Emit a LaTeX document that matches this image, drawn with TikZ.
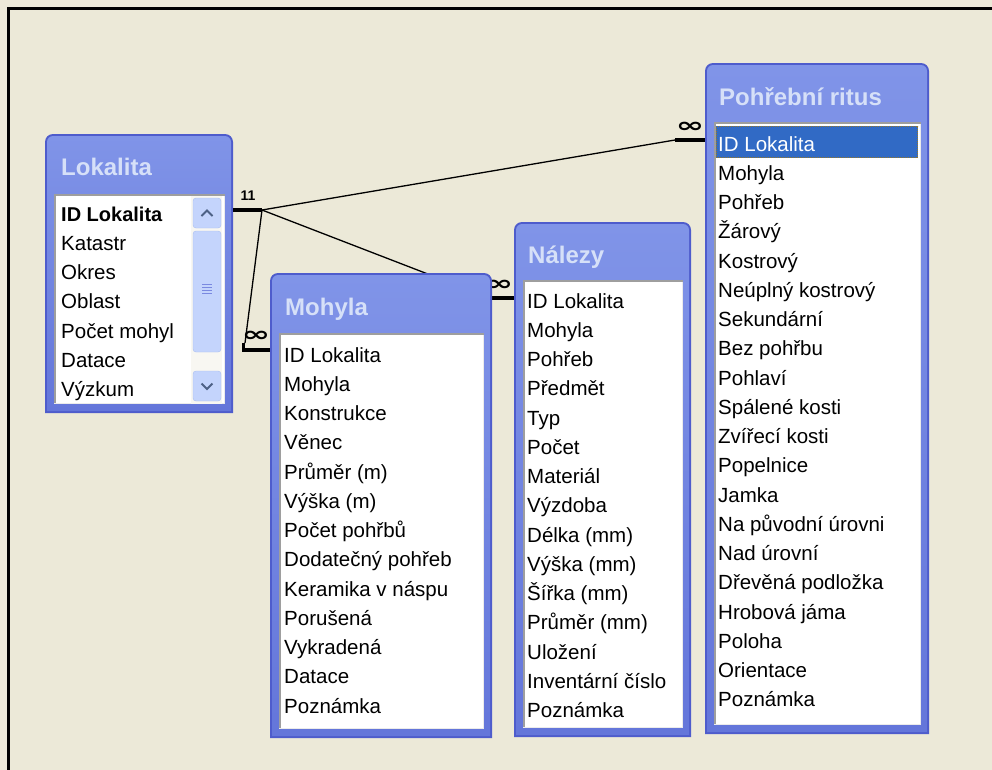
\documentclass[tikz,border=0pt]{standalone}
\usepackage{fontspec}
\setmainfont{Liberation Sans}
\newfontfamily\symf{DejaVu Sans}
\usetikzlibrary{calc}
\definecolor{bg}{RGB}{236,233,216}
\definecolor{winA}{RGB}{128,148,232}
\definecolor{winB}{RGB}{100,118,218}
\definecolor{winE}{RGB}{78,92,204}
\definecolor{ttlc}{RGB}{214,224,248}
\definecolor{selc}{RGB}{49,106,197}
\definecolor{sbf}{RGB}{196,212,252}
\definecolor{sbd}{RGB}{170,190,240}
\definecolor{sba}{RGB}{77,97,133}
\definecolor{trk}{RGB}{248,247,242}
\newcommand\xpwin[5]{%
 \fill[winE] (#1,#4) -- (#1,{#2+8}) arc[start angle=180,end angle=90,radius=8pt] -- ({#3-8},#2) arc[start angle=90,end angle=0,radius=8pt] -- (#3,#4) -- cycle;
 \shade[top color=winA,bottom color=winB] ({#1+2},{#4-2}) -- ({#1+2},{#2+8}) arc[start angle=180,end angle=90,radius=6pt] -- ({#3-8},{#2+2}) arc[start angle=90,end angle=0,radius=6pt] -- ({#3-2},{#4-2}) -- cycle;
 \fill[white] ({#1+9},#5) rectangle ({#3-8},{#4-9});
 \draw[black!38,line width=2pt] ({#1+10},{#4-9}) -- ({#1+10},{#5+1}) -- ({#3-8},{#5+1});
 \draw[black!8,line width=1pt] ({#1+9},{#4-9.5}) -- ({#3-8.5},{#4-9.5}) -- ({#3-8.5},{#5+2});
}
\begin{document}
\begin{tikzpicture}[x=1pt,y=-1pt,
  field/.style={anchor=base west,inner sep=0pt,font=\fontsize{20.5}{22}\selectfont,text=black},
  ttl/.style={anchor=base west,inner sep=0pt,font=\bfseries\fontsize{24}{26}\selectfont,text=ttlc},
  bar/.style={line width=4.5pt,line cap=butt},
  conn/.style={line width=1.3pt},
  one/.style={inner sep=0pt,font=\bfseries\fontsize{14}{14}\selectfont},
  many/.style={inner sep=0pt,font=\symf\bfseries\fontsize{34}{34}\selectfont}]
\useasboundingbox (0,0) rectangle (992,769);
\fill[bg] (-6,-6) rectangle (1000,776);
\draw[line width=3pt] (8.5,776) -- (8.5,8.5) -- (1000,8.5);

% Lokalita
\xpwin{45}{134}{233}{413}{194}
\node[ttl] (lokT) at (61,175) {Lokalita};
\fill[trk] (191,196) rectangle (222,404);
\draw[fill=sbf,draw=sbd,rounded corners=3pt] (193,198) rectangle (221,228);
\draw[sba,line width=2pt] (201.5,216) -- (207,210.5) -- (212.5,216);
\draw[fill=sbf,draw=sbd,rounded corners=3pt] (193,231) rectangle (221,352);
\foreach \g in {284,287,290,293} \draw[black!10!sbd!80!blue,line width=0.8pt] (202,\g) -- (212,\g);
\draw[fill=sbf,draw=sbd,rounded corners=3pt] (193,371) rectangle (221,401);
\draw[sba,line width=2pt] (201.5,383.5) -- (207,389) -- (212.5,383.5);
\node[field,font=\bfseries\fontsize{20}{22}\selectfont] (lok1) at (61,221) {ID Lokalita};
\foreach \t [count=\i from 2] in {Katastr,Okres,Oblast,Počet mohyl,Datace,Výzkum}
  \node[field] (lok\i) at (61,{221+(\i-1)*29.25}) {\t};

% Pohřební ritus
\xpwin{705}{63}{929}{734}{122}
\node[ttl] (ritT) at (719,105) {Pohřební ritus};
\fill[selc] (716,126) rectangle (918,158);
\draw[densely dotted,line width=1pt,color={rgb,255:red,150;green,120;blue,40}] (716.5,126.5) rectangle (917.5,157.5);
\node[field,text=white] (rit1) at (718,151) {ID Lokalita};
\foreach \t [count=\i from 2] in {Mohyla,Pohřeb,Žárový,Kostrový,Neúplný kostrový,Sekundární,Bez pohřbu,Pohlaví,Spálené kosti,Zvířecí kosti,Popelnice,Jamka,Na původní úrovni,Nad úrovní,Dřevěná podložka,Hrobová jáma,Poloha,Orientace,Poznámka}
  \node[field] (rit\i) at (718,{151+(\i-1)*29.25}) {\t};

% Nálezy
\xpwin{514}{222}{691}{737}{280}
\node[ttl] (nalT) at (528,263) {Nálezy};
\foreach \t [count=\i] in {ID Lokalita,Mohyla,Pohřeb,Předmět,Typ,Počet,Materiál,Výzdoba,Délka (mm),Výška (mm),Šířka (mm),Průměr (mm),Uložení,Inventární číslo,Poznámka}
  \node[field] (nal\i) at (527,{308+(\i-1)*29.25}) {\t};

% connectors
\coordinate (lokR) at (233,210);
\coordinate (J) at (262,210);
\coordinate (ritL) at (705,140);
\coordinate (ritB) at (675,140);
\coordinate (nalL) at (514,298);
\coordinate (nalB) at (490,298);
\coordinate (mohK) at (245,343);
\coordinate (mohB) at (242,350);
\coordinate (mohL) at (270,350);
\draw[bar] (lokR) -- (J);
\draw[conn] (J) -- (ritB);
\draw[bar] (ritB) -- (ritL);
\draw[conn] (J) -- (nalB);
\draw[bar] (nalB) -- (nalL);
\draw[conn] (J) -- (mohK);
\draw[line width=3pt] (243.5,343) -- (243.5,352);
\draw[bar] (mohB) -- (mohL);
\node[one] (c11) at (248,196) {11};
\node[many] (cR) at (690,127) {\scalebox{1}[0.6]{∞}};
\node[many] (cN) at (499,285) {\scalebox{1}[0.6]{∞}};
\node[many] (cM) at (256,336) {\scalebox{1}[0.6]{∞}};

% Mohyla
\xpwin{270}{273}{492}{738}{333}
\node[ttl] (mohT) at (285,315) {Mohyla};
\foreach \t [count=\i] in {ID Lokalita,Mohyla,Konstrukce,Věnec,Průměr (m),Výška (m),Počet pohřbů,Dodatečný pohřeb,Keramika v náspu,Porušená,Vykradená,Datace,Poznámka}
  \node[field] (moh\i) at (284,{362+(\i-1)*29.25}) {\t};
\end{tikzpicture}
\end{document}
